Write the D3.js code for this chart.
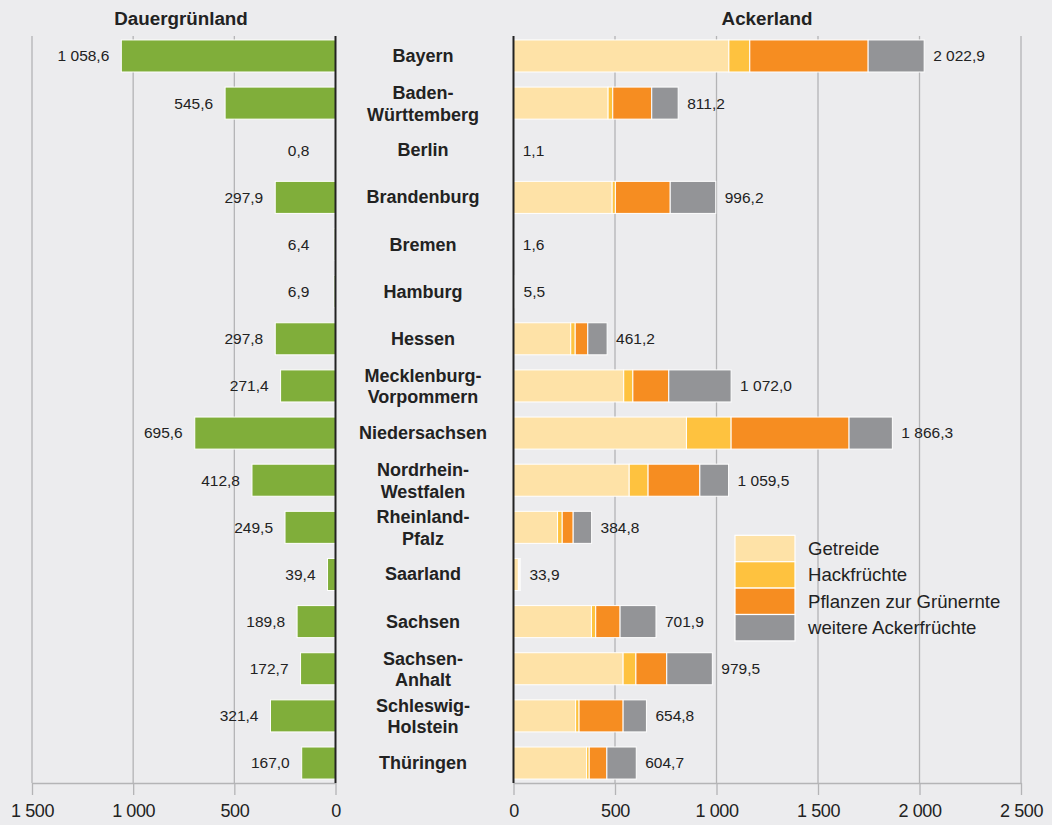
<!DOCTYPE html>
<html><head><meta charset="utf-8">
<script src="https://cdn.jsdelivr.net/npm/d3@7"></script>
<style>
html,body{margin:0;padding:0;background:#ececee;}
svg{display:block;font-family:"Liberation Sans",Arial,sans-serif;}
</style></head>
<body><svg id="chart" width="1052" height="825"></svg>
<script>
const states = ["Bayern","Baden-Württemberg","Berlin","Brandenburg","Bremen","Hamburg","Hessen","Mecklenburg-Vorpommern","Niedersachsen","Nordrhein-Westfalen","Rheinland-Pfalz","Saarland","Sachsen","Sachsen-Anhalt","Schleswig-Holstein","Thüringen"];
const stateLines = [["Bayern"],["Baden-","Württemberg"],["Berlin"],["Brandenburg"],["Bremen"],["Hamburg"],["Hessen"],["Mecklenburg-","Vorpommern"],["Niedersachsen"],["Nordrhein-","Westfalen"],["Rheinland-","Pfalz"],["Saarland"],["Sachsen"],["Sachsen-","Anhalt"],["Schleswig-","Holstein"],["Thüringen"]];
const dauergruenland = [1058.6,545.6,0.8,297.9,6.4,6.9,297.8,271.4,695.6,412.8,249.5,39.4,189.8,172.7,321.4,167.0];
const ackerlandTotal = [2022.9,811.2,1.1,996.2,1.6,5.5,461.2,1072.0,1866.3,1059.5,384.8,33.9,701.9,979.5,654.8,604.7];
const getreide        = [1061,466,0.6,486,0.7,2.8,282,543,852,570,217,24,384,540,306,360];
const hackfruechte    = [103,23,0.0,16,0.0,0.1,22,45,220,93,23,1,21,63,17,13];
const pflanzenGruen   = [583,192,0.2,270,0.6,1.5,62,177,581,255,54,5,120,152,217,87];
const seriesNames = ["Getreide","Hackfrüchte","Pflanzen zur Grünernte","weitere Ackerfrüchte"];
const seriesColors = ["#fee2a7","#fec23f","#f68d21","#939497"];
const leftTicks = [1500,1000,500,0];
const rightTicks = [0,500,1000,1500,2000,2500];

const weitere = ackerlandTotal.map((t,i)=> +(t - getreide[i] - hackfruechte[i] - pflanzenGruen[i]).toFixed(1));

const loc = d3.formatLocale({decimal:",", thousands:" ", grouping:[3], currency:["","€"]});
const fmt1 = loc.format(",.1f");
const fmt0 = loc.format(",.0f");

const svg = d3.select("#chart");
const yTop = 36, yBottom = 783;

const xL = d3.scaleLinear().domain([0,1500]).range([335.5,32]);
const xR = d3.scaleLinear().domain([0,2500]).range([513.5,1021]);
const y = d3.scaleBand().domain(states).range([32.4,786.6]).paddingInner(0.32).paddingOuter(0.16);

// gridlines
const grid = svg.append("g");
leftTicks.filter(d=>d>0).forEach(d=>{
  grid.append("line").attr("x1",xL(d)).attr("x2",xL(d)).attr("y1",yTop).attr("y2",yBottom).attr("stroke","#b4b4b6").attr("stroke-width",1.3);
});
rightTicks.filter(d=>d>0).forEach(d=>{
  grid.append("line").attr("x1",xR(d)).attr("x2",xR(d)).attr("y1",yTop).attr("y2",yBottom).attr("stroke","#b4b4b6").attr("stroke-width",1.3);
});

// axes
function styleAxis(g){
  g.select(".domain").attr("stroke","#b4b4b6").attr("stroke-width",1.3);
  g.selectAll(".tick line").attr("stroke","#b4b4b6").attr("stroke-width",1.3);
  g.selectAll(".tick text").attr("fill","#222").attr("font-size","18px").attr("font-family","'Liberation Sans',Arial,sans-serif").attr("letter-spacing","-0.4px");
}
svg.append("g").attr("transform",`translate(0,${yBottom})`)
  .call(d3.axisBottom(xL).tickValues(leftTicks).tickFormat(fmt0).tickSizeInner(12).tickSizeOuter(0).tickPadding(9))
  .call(styleAxis);
svg.append("g").attr("transform",`translate(0,${yBottom})`)
  .call(d3.axisBottom(xR).tickValues(rightTicks).tickFormat(fmt0).tickSizeInner(12).tickSizeOuter(0).tickPadding(9))
  .call(styleAxis);

// left bars
svg.append("g").selectAll("rect").data(dauergruenland).join("rect")
  .attr("x",d=>xL(d)).attr("y",(d,i)=>y(states[i]))
  .attr("width",d=>xL(0)-xL(d)).attr("height",y.bandwidth())
  .attr("fill","#80ae3a").attr("stroke",d=>d>5?"#fff":"none").attr("stroke-width",1);

svg.append("g").selectAll("text").data(dauergruenland).join("text")
  .attr("x",d=>xL(d<20?70:d)-12).attr("y",(d,i)=>y(states[i])+y.bandwidth()/2)
  .attr("dy","0.35em").attr("text-anchor","end").attr("font-size","15.5px").attr("fill","#222")
  .text(d=>fmt1(d));

// right stacked bars
const table = states.map((s,i)=>({state:s, s0:getreide[i], s1:hackfruechte[i], s2:pflanzenGruen[i], s3:weitere[i]}));
const stack = d3.stack().keys(["s0","s1","s2","s3"])(table);
svg.append("g").selectAll("g").data(stack).join("g")
  .attr("fill",(d,i)=>seriesColors[i])
  .selectAll("rect").data(d=>d).join("rect")
  .attr("x",d=>xR(d[0])).attr("y",d=>y(d.data.state))
  .attr("width",d=>xR(d[1])-xR(d[0])).attr("height",y.bandwidth())
  .attr("stroke",d=>(d[1]-d[0])>0.5?"#fff":"none").attr("stroke-width",1);

svg.append("g").selectAll("text").data(ackerlandTotal).join("text")
  .attr("x",d=>xR(d)+9).attr("y",(d,i)=>y(states[i])+y.bandwidth()/2)
  .attr("dy","0.35em").attr("text-anchor","start").attr("font-size","15.5px").attr("fill","#222")
  .text(d=>fmt1(d));

// zero lines
svg.append("line").attr("x1",xL(0)).attr("x2",xL(0)).attr("y1",yTop).attr("y2",yBottom).attr("stroke","#222").attr("stroke-width",2);
svg.append("line").attr("x1",xR(0)).attr("x2",xR(0)).attr("y1",yTop).attr("y2",yBottom).attr("stroke","#222").attr("stroke-width",2);

// state labels
const lab = svg.append("g").selectAll("text").data(stateLines).join("text")
  .attr("x",423).attr("text-anchor","middle").attr("font-size","18px").attr("font-weight","bold").attr("fill","#222")
  .attr("y",(d,i)=>y(states[i])+y.bandwidth()/2 + (d.length===1?6:-4));
lab.selectAll("tspan").data(d=>d).join("tspan")
  .attr("x",423).attr("dy",(d,j)=>j===0?0:21.5).text(d=>d);

// titles
svg.append("text").attr("x",181).attr("y",25).attr("text-anchor","middle").attr("font-size","18.8px").attr("font-weight","bold").attr("fill","#222").text("Dauergrünland");
svg.append("text").attr("x",767).attr("y",25).attr("text-anchor","middle").attr("font-size","18.8px").attr("font-weight","bold").attr("fill","#222").text("Ackerland");

// legend
const lg = svg.append("g").attr("transform","translate(735,535.3)");
seriesNames.forEach((n,i)=>{
  lg.append("rect").attr("x",0).attr("y",i*26.4).attr("width",60).attr("height",26.4).attr("fill",seriesColors[i]).attr("stroke","#fff").attr("stroke-width",1.2);
  lg.append("text").attr("x",73).attr("y",i*26.4+13.2).attr("dy","0.35em").attr("font-size","18.6px").attr("fill","#222").text(n);
});
</script>
</body></html>
